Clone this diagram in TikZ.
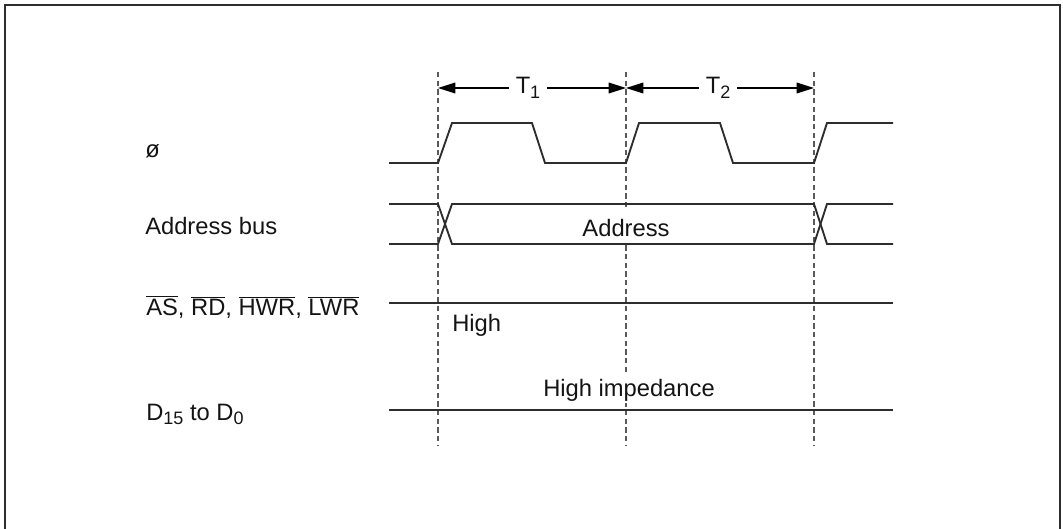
\documentclass[tikz,border=0pt]{standalone}
\usepackage{fontspec}
\setmainfont{Liberation Sans}
\usepackage{tikz}
\usepackage{xcolor}
\usetikzlibrary{arrows.meta, positioning}
\definecolor{sigline}{RGB}{45, 45, 45}
\definecolor{gridgray}{RGB}{90, 90, 90}
\definecolor{labeltext}{RGB}{20, 20, 20}
\newcommand{\ovl}[1]{$\overline{\mbox{#1}}$}
\newcommand{\lowidx}[1]{\raisebox{-0.2em}{\fontsize{13.5}{14}\selectfont #1}}

\begin{document}
\begin{tikzpicture}[x=0.75pt, y=-0.75pt, font=\fontsize{17.8}{20}\selectfont]
    \tikzstyle{frame} = [line width=1.5pt, color=sigline]
    \tikzstyle{sig}   = [line width=1.4pt, color=sigline, line join=miter]
    \tikzstyle{grid}  = [line width=0.8pt, gridgray, dash pattern=on 4pt off 2.5pt]
    \tikzstyle{arr}   = [-{Triangle[length=13pt, width=8pt]}, line width=1pt, black]
    \tikzstyle{lbl}   = [inner sep=0pt, text=labeltext, anchor=base west]
    \tikzstyle{tlbl}  = [inner xsep=5pt, inner ysep=1pt, text=labeltext]

    \useasboundingbox (0,0) rectangle (1063,528);
    \draw[frame] (5,5) rectangle (1060,545);

    %% Cycle edges (dashed)
    \coordinate (e0) at (438,72);   \coordinate (f0) at (438,445);
    \coordinate (e1) at (626,72);   \coordinate (f1) at (626,445);
    \coordinate (e2) at (814,72);   \coordinate (f2) at (814,445);
    \draw[grid] (e0) -- (f0);
    \draw[grid] (e1) -- (f1);
    \draw[grid] (e2) -- (f2);

    %% ── States T1 / T2 ────────────────────────────────────────────────────
    \coordinate (a0) at (438,88);
    \coordinate (a1) at (626,88);
    \coordinate (a2) at (814,88);
    \node[tlbl] (t1) at (528,88) {T\lowidx{1}};
    \node[tlbl] (t2) at (718,88) {T\lowidx{2}};
    \draw[arr] (t1.west) -- (a0);
    \draw[arr] (t1.east) -- (a1);
    \draw[arr] (t2.west) -- (a1);
    \draw[arr] (t2.east) -- (a2);

    %% ── Signal names ──────────────────────────────────────────────────────
    \node[lbl] (phi)  at (145,157) {ø};
    \node[lbl] (abus) at (145,234) {Address bus};
    \node[lbl] (ctrl) at (146,315) {\ovl{AS}, \ovl{RD}, \ovl{HWR}, \ovl{LWR}};
    \node[lbl] (dbus) at (146,420) {D\lowidx{15} to D\lowidx{0}};

    %% ── Waveforms ─────────────────────────────────────────────────────────
    %% clock
    \draw[sig] (389,163) -- (438,163) -- (452,123) -- (532,123) -- (545,163)
               -- (626,163) -- (639,123) -- (720,123) -- (733,163)
               -- (814,163) -- (827,123) -- (893,123);
    %% address bus
    \draw[sig] (389,204) -- (438,204) -- (452,244) -- (814,244) -- (827,204) -- (893,204);
    \draw[sig] (389,244) -- (438,244) -- (452,204) -- (814,204) -- (827,244) -- (893,244);
    %% strobes, data bus
    \draw[sig] (389,303) -- (893,303);
    \draw[sig] (389,410) -- (893,410);

    %% ── Level labels (white fill hides the dashes) ────────────────────────
    \node[lbl, anchor=base, fill=white, inner xsep=3pt, text height=21pt, text depth=4.5pt]
      (addr) at (626,236) {Address};
    \node[lbl] (high) at (452,331) {High};
    \node[lbl, anchor=base, fill=white, inner xsep=3pt, text height=17pt, text depth=5pt]
      (hiz) at (629,396) {High impedance};
  \end{tikzpicture}
\end{document}
